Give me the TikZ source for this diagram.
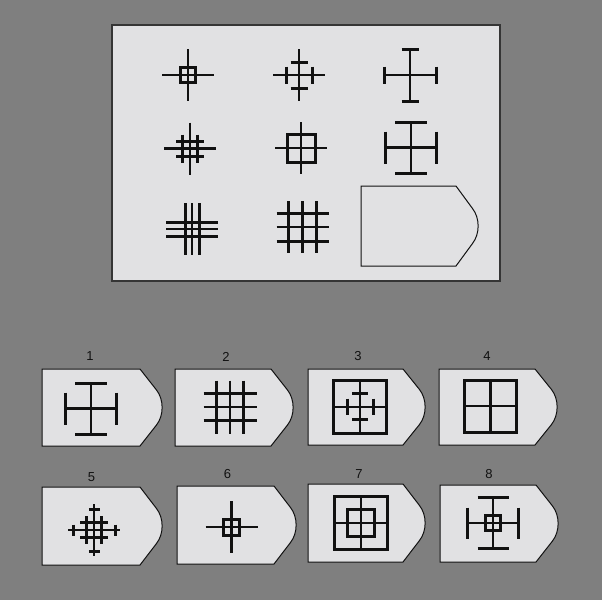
\documentclass[tikz,border=0pt]{standalone}
\usepackage{fontspec}
\setmainfont{Liberation Sans}
\usetikzlibrary{positioning}
\definecolor{bggrey}{HTML}{7F7F7F}
\definecolor{cardgrey}{HTML}{E1E1E3}
\definecolor{inkdark}{HTML}{111111}

\tikzset{
  thinline/.style={draw=inkdark, line width=2.2pt},
  thickline/.style={draw=inkdark, line width=3pt},
  pics/plus/.style={code={\draw[thinline] (-#1,0) -- (#1,0) (0,-#1) -- (0,#1);}},
  pics/box/.style={code={\draw[thickline] (-#1,-#1) rectangle (#1,#1);}},
  pics/bars/.style n args={2}{code={\draw[thickline]
    (-#2,-#1) -- (#2,-#1) (-#2,#1) -- (#2,#1) (-#1,-#2) -- (-#1,#2) (#1,-#2) -- (#1,#2);}},
  pics/tag/.style n args={2}{code={\draw[fill=cardgrey, draw=inkdark, line width=1pt]
    (0,0) -- (#1,0) -- (#1+16.5,#2/2-17.5) .. controls (#1+24,#2/2-8) and (#1+24,#2/2+8)
    .. (#1+16.5,#2/2+17.5) -- (#1,#2) -- (0,#2) -- cycle;}},
}

\begin{document}
\begin{tikzpicture}[x=1pt, y=-1pt,
  lab/.style={font=\fontsize{13}{15}\selectfont, text=inkdark, inner sep=0pt}]
\useasboundingbox[fill=bggrey] (0,0) rectangle (602,600);

% matrix panel
\draw[fill=cardgrey, draw=inkdark!85, line width=1.5pt] (112,25) rectangle (500,281);
\foreach \cx/\cy in {188/75, 299/75, 410/75, 190/148.5, 301/148, 411/147.5, 192/229, 302.5/227}
  \pic at (\cx,\cy) {plus=26};
\pic at (188,75) {box=7.5};
\pic at (299,75) {bars={13}{8.5}};
\pic at (410,75) {bars={26}{8.5}};
\pic at (190,148.5) {bars={7.5}{14}};
\pic at (301,148) {box=14};
\pic at (411,147.5) {bars={25.5}{16}};
\pic at (192,229) {bars={7}{26}};
\pic at (302.5,227) {bars={14}{26}};
\pic at (361,186) {tag={95}{80}};

% answer cards
\foreach \n/\lx/\ly/\px/\py/\w/\h in {1/90/356.5/42/369/98/77, 2/226/356.5/175/369/96/77,
    3/358/356.5/308/369/95/76, 4/487/356.5/439/369/96/76, 5/91.5/477.5/42/487/98/78,
    6/227.5/474.5/177/486/97/78, 7/359/474.5/308/484/95/78, 8/489/474/440/485/96/77} {
  \node[lab] (lab\n) at (\lx,\ly) {\n};
  \pic at (\px,\py) {tag={\w}{\h}};
}
% card 1
\pic at (91,408.5) {plus=25.5};
\pic at (91,408.5) {bars={25.5}{16}};
% card 2
\pic at (230,407) {plus=26.5};
\pic at (230,407) {bars={13.3}{26.5}};
% card 3
\pic at (360,406.7) {plus=26.5};
\pic at (360,406.7) {box=26.5};
\pic at (360,406.7) {bars={13}{8}};
% card 4
\pic at (490.5,406.3) {plus=26.3};
\pic at (490.5,406.3) {box=26.3};
% card 5
\pic at (94.3,530) {plus=26};
\pic at (94.3,530) {bars={21}{5.5}};
\pic at (94.3,530) {bars={7.5}{14}};
% card 6
\pic at (231.5,527) {plus=26};
\pic at (231.5,527) {box=8};
% card 7
\pic at (361,523) {plus=26.5};
\pic at (361,523) {box=26.5};
\pic at (361,523) {box=13.5};
% card 8
\pic at (493,523) {plus=25.5};
\pic at (493,523) {bars={25.5}{15.5}};
\pic at (493,523) {box=7.3};
\end{tikzpicture}
\end{document}
